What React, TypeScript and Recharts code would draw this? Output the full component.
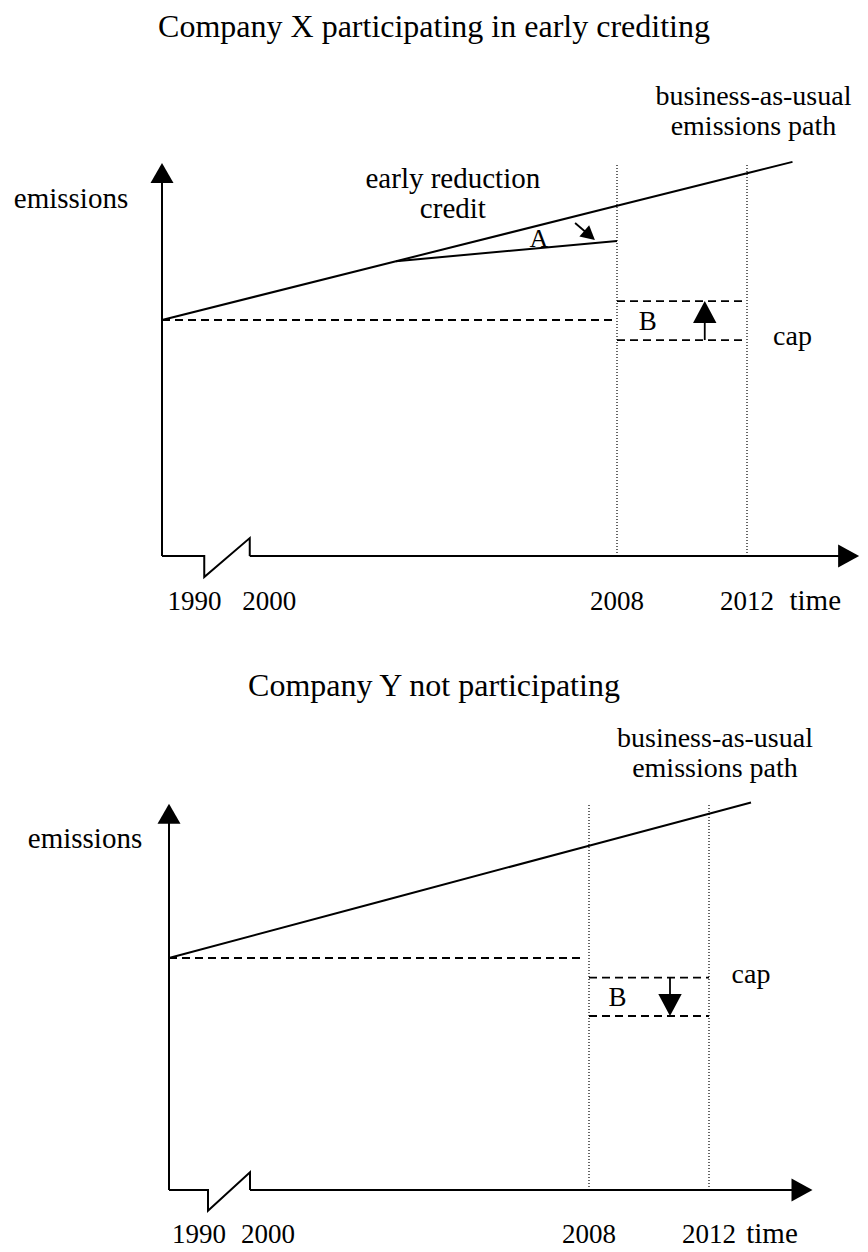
import React from "react";
import { ComposedChart, Line, XAxis, YAxis, ReferenceLine, ReferenceDot } from "recharts";

// schematic time axis: the 1990–2000 stretch is squeezed into the axis break
const ORIGIN_YEAR = 1994;
const AXIS_END_YEAR = 2015.45;
const AXIS_TOP = 166.5;
const milestoneYears = [2008, 2012];
const tickLabels = ["1990", "2000", "2008", "2012"];
const tickYears = [1995, 1997.3, 2008, 2012];

// business-as-usual emissions path (index, 1990 level = 100)
const bauYears = [1994, 2001.2, 2008, 2012, 2013.4];
const bauEmissions = [100, 124.9, 148.4, 162.2, 167];

// company X early reduction path
const earlyYears = [2001.2, 2008];
const earlyEmissions = [124.9, 133.5];

const baseLevel = 100;
const baseLevelEnd = 2007.85;
const capLevel = 91.5;
const capWithCredit = 108;
const capWithoutCredit = 75;

// axis break zigzag
const breakYears = [1994, 1995.3, 1995.3, 1996.7, 1996.7];
const breakEmissions = [0, 0, -8.9, 7.6, 0];

const WIDTH = 868;
const TITLE_CENTER = 434;
const FONT = "'Liberation Serif', 'Times New Roman', serif";

const toRows = (xs: number[], ys: number[]) => xs.map((year, i) => ({ year, e: ys[i] }));

const arrowShape = (len: number, half: number, width = 2) => (p: any) => {
  const { x1, y1, x2, y2 } = p;
  const dx = x2 - x1;
  const dy = y2 - y1;
  const d = Math.hypot(dx, dy) || 1;
  const ux = dx / d;
  const uy = dy / d;
  const bx = x2 - ux * len;
  const by = y2 - uy * len;
  const nx = -uy;
  const ny = ux;
  return (
    <g>
      <line x1={x1} y1={y1} x2={bx + ux} y2={by + uy} stroke="#000" strokeWidth={width} />
      <polygon
        points={`${x2},${y2} ${bx + nx * half},${by + ny * half} ${bx - nx * half},${by - ny * half}`}
        fill="#000"
      />
    </g>
  );
};

const textShape = (lines: string[], size: number, anchor: "start" | "middle" | "end" = "middle", gap = 30) => (p: any) => (
  <text x={p.cx} y={p.cy} fontSize={size} fontFamily={FONT} textAnchor={anchor} fill="#000">
    {lines.map((l, i) => (
      <tspan key={i} x={p.cx} dy={i === 0 ? 0 : gap}>
        {l}
      </tspan>
    ))}
  </text>
);

interface PanelProps {
  title: string;
  titleE: number;
  pxYear: number;
  pxUnit: number;
  axisLeft: number;
  axisBottom: number;
  height: number;
  credited: boolean;
}

function Panel({ title, titleE, pxYear, pxUnit, axisLeft, axisBottom, height, credited }: PanelProps) {
  const x0 = ORIGIN_YEAR - axisLeft / pxYear;
  const x1 = x0 + WIDTH / pxYear;
  const yTop = axisBottom / pxUnit;
  const yBottom = -(height - axisBottom) / pxUnit;
  const capAfter = credited ? capWithCredit : capWithoutCredit;
  const capMid = (capLevel + capAfter) / 2;
  const arrowYear = 2010.7;
  const labelE = -22.9;
  const titleYear = x0 + TITLE_CENTER / pxYear;

  const dash = { stroke: "#000", strokeWidth: 1.8, strokeDasharray: "8 5" };

  return (
    <ComposedChart width={WIDTH} height={height} margin={{ top: 0, right: 0, bottom: 0, left: 0 }}>
      <XAxis type="number" dataKey="year" domain={[x0, x1]} allowDataOverflow hide />
      <YAxis type="number" dataKey="e" domain={[yBottom, yTop]} allowDataOverflow hide />

      {/* axes */}
      <ReferenceLine segment={[{ x: ORIGIN_YEAR, y: 0 }, { x: ORIGIN_YEAR, y: AXIS_TOP }]} shape={arrowShape(20, 11.5)} />
      <Line data={toRows(breakYears, breakEmissions)} dataKey="e" stroke="#000" strokeWidth={2} dot={false} activeDot={false} isAnimationActive={false} />
      <ReferenceLine segment={[{ x: breakYears[breakYears.length - 1], y: 0 }, { x: AXIS_END_YEAR, y: 0 }]} shape={arrowShape(21, 11.5)} />

      {milestoneYears.map((yr) => (
        <ReferenceLine key={yr} segment={[{ x: yr, y: 0 }, { x: yr, y: 166 }]} stroke="#000" strokeWidth={1.2} strokeDasharray="1 2" />
      ))}

      {/* 1990 level and caps */}
      <ReferenceLine segment={[{ x: ORIGIN_YEAR, y: baseLevel }, { x: baseLevelEnd, y: baseLevel }]} {...dash} />
      <ReferenceLine segment={[{ x: milestoneYears[0], y: capLevel }, { x: milestoneYears[1], y: capLevel }]} {...dash} />
      <ReferenceLine segment={[{ x: milestoneYears[0], y: capAfter }, { x: milestoneYears[1], y: capAfter }]} {...dash} />
      <ReferenceLine segment={[{ x: arrowYear, y: capLevel }, { x: arrowYear, y: capAfter }]} shape={arrowShape(22, 11.7, 1.8)} />

      <Line data={toRows(bauYears, bauEmissions)} dataKey="e" stroke="#000" strokeWidth={2} dot={false} activeDot={false} isAnimationActive={false} />
      {credited && (
        <Line data={toRows(earlyYears, earlyEmissions)} dataKey="e" stroke="#000" strokeWidth={2} dot={false} activeDot={false} isAnimationActive={false} />
      )}
      {credited && (
        <ReferenceLine segment={[{ x: 2006.71, y: 141.1 }, { x: 2007.32, y: 133.9 }]} shape={arrowShape(14, 7.5, 1.8)} />
      )}

      {/* text */}
      <ReferenceDot x={titleYear} y={titleE} shape={textShape([title], 32)} />
      <ReferenceDot x={1991.2} y={147.5} shape={textShape(["emissions"], 29)} />
      <ReferenceDot x={2012.2} y={191} shape={textShape(["business-as-usual", "emissions path"], 28)} />
      <ReferenceDot x={2008.95} y={capMid - 9 / pxUnit} shape={textShape(["B"], 27)} />
      <ReferenceDot x={2013.4} y={89.3} shape={textShape(["cap"], 28)} />
      {credited && <ReferenceDot x={2002.95} y={156} shape={textShape(["early reduction", "credit"], 29)} />}
      {credited && <ReferenceDot x={2005.6} y={131} shape={textShape(["A"], 26)} />}
      {tickYears.map((yr, i) => (
        <ReferenceDot key={tickLabels[i]} x={yr} y={labelE} shape={textShape([tickLabels[i]], 27)} />
      ))}
      <ReferenceDot x={2014.1} y={labelE} shape={textShape(["time"], 29)} />
    </ComposedChart>
  );
}

export default function App() {
  return (
    <div style={{ position: "absolute", left: 0, top: 0, width: WIDTH, height: 1252, background: "#fff" }}>
      <Panel
        title="Company X participating in early crediting"
        titleE={220}
        pxYear={32.5}
        pxUnit={2.36}
        axisLeft={162}
        axisBottom={556}
        height={626}
        credited
      />
      <Panel
        title="Company Y not participating"
        titleE={213}
        pxYear={30}
        pxUnit={2.32}
        axisLeft={169}
        axisBottom={564}
        height={626}
        credited={false}
      />
    </div>
  );
}
